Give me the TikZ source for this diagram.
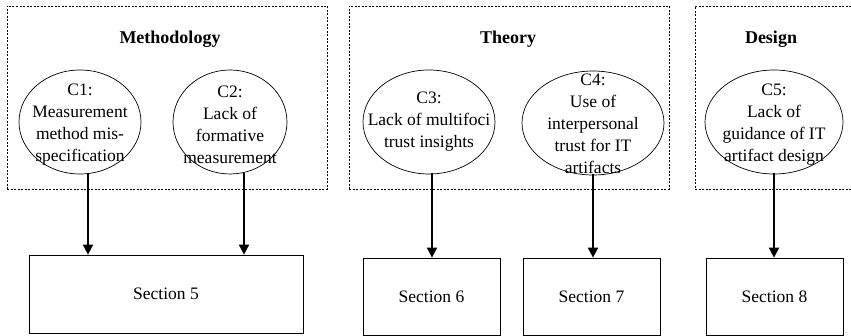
\documentclass[tikz,border=0pt]{standalone}
\usepackage{fontspec}
\setmainfont{Liberation Serif}
\usetikzlibrary{shapes.geometric,arrows.meta,calc}

\begin{document}
\begin{tikzpicture}[x=1pt,y=-1pt,
  group/.style={draw, dash pattern=on 2pt off 1.5pt, line width=0.7pt, inner sep=0pt},
  challenge/.style={draw, ellipse, line width=0.7pt, inner sep=0pt},
  ctext/.style={align=center, font=\fontsize{17.5}{22}\selectfont, inner sep=0pt},
  grouptitle/.style={font=\fontsize{18}{22}\selectfont\bfseries, inner sep=0pt, anchor=base},
  sectionbox/.style={draw, line width=0.7pt, font=\fontsize{17.5}{22}\selectfont, inner sep=0pt},
  link/.style={line width=1.8pt, -{Triangle[width=10pt,length=10pt]}}]

\useasboundingbox (0,0) rectangle (851,336);

% dashed groups
\node[group, minimum width=320pt, minimum height=183pt] (gm) at (167,97.5) {};
\node[group, minimum width=320pt, minimum height=183pt] (gt) at (509,97.5) {};
\node[group, minimum width=158pt, minimum height=183pt] (gd) at (774,97.5) {};

\node[grouptitle] (tm) at (170,44) {Methodology};
\node[grouptitle] (tt) at (508,44) {Theory};
\node[grouptitle] (td) at (771,44) {Design};

% challenges
\node[challenge, minimum width=122pt, minimum height=104pt] (c1) at (80,122) {};
\node[challenge, minimum width=114pt, minimum height=104pt] (c2) at (230,122) {};
\node[challenge, minimum width=132pt, minimum height=104pt] (c3) at (429,122) {};
\node[challenge, minimum width=142pt, minimum height=104pt] (c4) at (593,123) {};
\node[challenge, minimum width=138pt, minimum height=104pt] (c5) at (774,122) {};

\node[ctext] (x1) at ($(c1)+(0,3)$) {C1:\\Measurement\\method mis-\\specification};
\node[ctext] (x2) at ($(c2)+(0,3)$) {C2:\\Lack of\\formative\\measurement};
\node[ctext] (x3) at ($(c3)+(0,0)$) {C3:\\Lack of multifoci\\trust insights};
\node[ctext] (x4) at ($(c4)+(0,1)$) {C4:\\Use of\\interpersonal\\trust for IT\\artifacts};
\node[ctext] (x5) at ($(c5)+(0,3)$) {C5:\\Lack of\\guidance of IT\\artifact design};

% sections
\node[sectionbox, minimum width=274pt, minimum height=78pt] (s5) at (166,294) {Section 5};
\node[sectionbox, minimum width=137pt, minimum height=77pt] (s6) at (431.5,296.5) {Section 6};
\node[sectionbox, minimum width=137pt, minimum height=77pt] (s7) at (591.5,296.5) {Section 7};
\node[sectionbox, minimum width=137pt, minimum height=77pt] (s8) at (774.5,296.5) {Section 8};

% links
\draw[link] ($(c1.south)+(8,-1)$) coordinate (a1) -- (a1 |- s5.north);
\draw[link] ($(c2.south)+(14,-1)$) coordinate (a2) -- (a2 |- s5.north);
\draw[link] ($(c3.south)+(3,-1)$) coordinate (a3) -- (a3 |- s6.north);
\draw[link] ($(c4.south)+(0,-1)$) coordinate (a4) -- (a4 |- s7.north);
\draw[link] ($(c5.south)+(0,-1)$) coordinate (a5) -- (a5 |- s8.north);
\end{tikzpicture}
\end{document}
